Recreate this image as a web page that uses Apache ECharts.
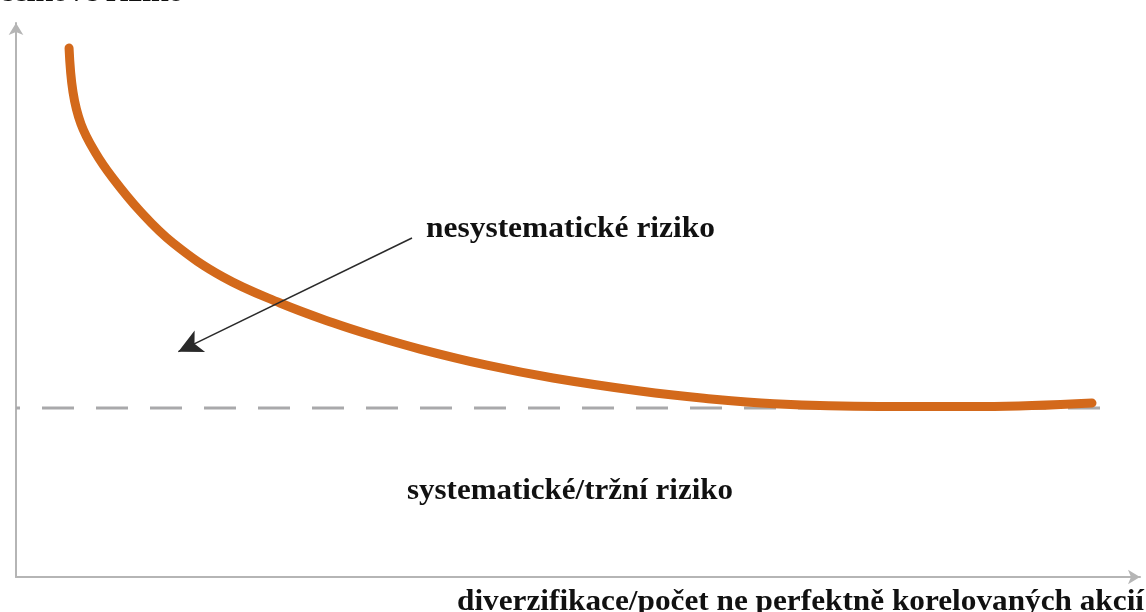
<!DOCTYPE html>
<html>
<head>
<meta charset="utf-8">
<script src="https://cdn.jsdelivr.net/npm/echarts@6/dist/echarts.min.js"></script>
<style>
html,body{margin:0;padding:0;background:#fff;}
#chart{width:1146px;height:612px;}
</style>
</head>
<body>
<div id="chart"></div>
<script>
// ---- data (arbitrary units 0..100) ----
var curveX = [4.72, 5.07, 5.78, 7.03, 8.54, 11.03, 13.97, 18.42, 23.49, 28.20, 31.49, 35.94, 41.90, 47.78, 55.52, 61.21, 67.44, 76.78, 86.03, 95.73];
var curveY = [95.49, 87.55, 81.77, 76.71, 72.20, 66.06, 60.29, 54.15, 49.46, 45.88, 43.72, 41.14, 38.23, 35.92, 33.57, 32.26, 31.26, 30.78, 30.78, 31.41];
var systematicLevel = 30.51;
var systematicX = [0, 96.71];
var arrowFrom = [35.23, 61.19];
var arrowTo = [14.44, 40.67];
var yAxisTitle = 'celkové riziko';
var xAxisTitle = 'diverzifikace/počet ne perfektně korelovaných akcií';
var unsystematicLabel = 'nesystematické riziko';
var systematicLabel = 'systematické/tržní riziko';

// ---- build ----
var curveData = curveX.map(function (x, i) { return [x, curveY[i]]; });
var floorData = systematicX.map(function (x) { return [x, systematicLevel]; });

var FONT = 'bold 30px "Liberation Serif"';
var ctx = document.createElement('canvas').getContext('2d');
ctx.font = FONT;
function fitText(text, left, right, midY) {
  var w = ctx.measureText(text).width;
  return {
    type: 'text', x: left, y: midY, scaleX: (right - left) / w, silent: true,
    style: { text: text, font: FONT, fill: '#111', align: 'left', verticalAlign: 'middle' }
  };
}

var chart = echarts.init(document.getElementById('chart'), null, { renderer: 'canvas' });
var axisLine = { show: true, symbol: ['none', 'arrow'], symbolSize: [11, 12], lineStyle: { color: '#b5b5b5', width: 2 } };
chart.setOption({
  animation: false,
  backgroundColor: '#ffffff',
  grid: { left: 16, right: 6, top: 23, bottom: 35, containLabel: false },
  xAxis: { type: 'value', min: 0, max: 100, axisLine: axisLine, axisTick: { show: false }, axisLabel: { show: false }, splitLine: { show: false } },
  yAxis: { type: 'value', min: 0, max: 100, axisLine: axisLine, axisTick: { show: false }, axisLabel: { show: false }, splitLine: { show: false } },
  series: [
    {
      type: 'line', data: floorData, symbol: 'none', silent: true, z: 1,
      lineStyle: { color: '#a9a9ab', width: 3, type: [32, 22], dashOffset: 28 }
    },
    {
      type: 'line', data: curveData, symbol: 'none', smooth: 0.4, silent: true, z: 3,
      lineStyle: { color: '#D3691B', width: 9, cap: 'round', join: 'round' },
      markLine: {
        silent: true, symbol: ['none', 'arrow'], symbolSize: [18, 24], label: { show: false },
        lineStyle: { color: '#2a2a2a', width: 1.5, type: 'solid' },
        emphasis: { disabled: true },
        data: [[{ coord: arrowFrom }, { coord: arrowTo }]]
      }
    }
  ],
  graphic: [
    fitText(yAxisTitle, -1, 184, -6.5),
    fitText(unsystematicLabel, 426, 715, 229),
    fitText(systematicLabel, 407, 733, 491),
    fitText(xAxisTitle, 457, 1144, 602)
  ]
});
</script>
</body>
</html>
